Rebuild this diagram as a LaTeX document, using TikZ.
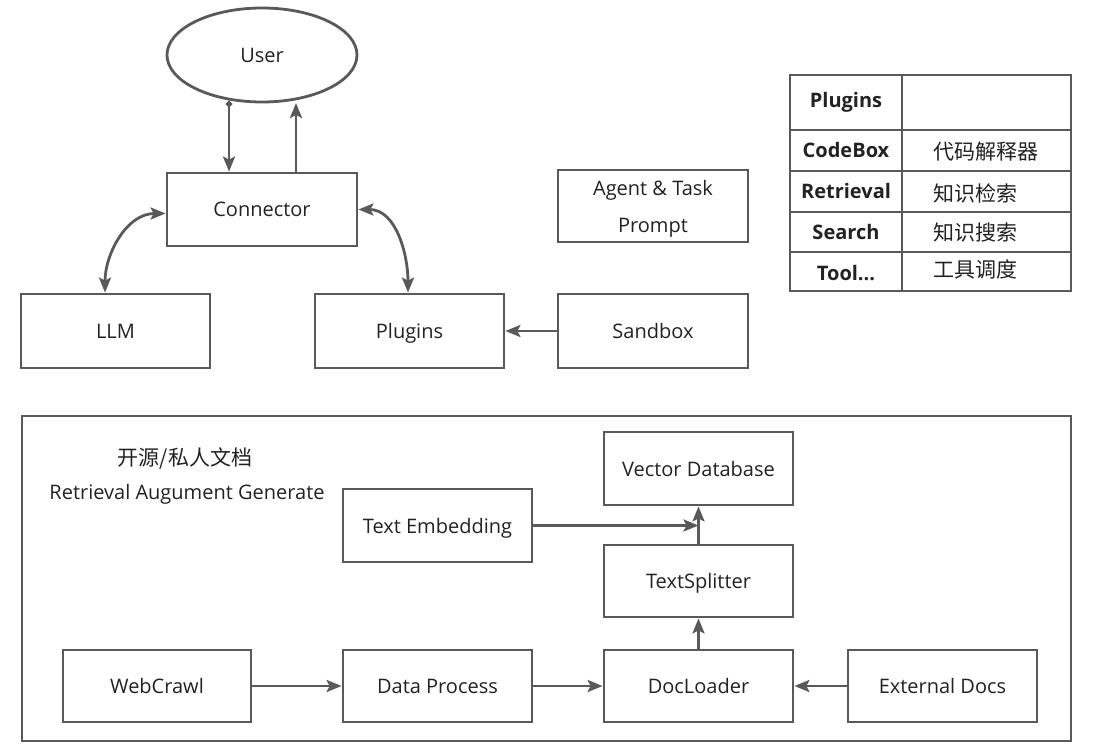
\documentclass[tikz,border=0pt]{standalone}
\usepackage{fontspec}
\setmainfont{Open Sans}
\newfontfamily\cjk{Noto Sans CJK SC}
\usetikzlibrary{arrows.meta,shapes.geometric}
\definecolor{ln}{HTML}{595959}
\definecolor{tx}{HTML}{222222}
\begin{document}
\begin{tikzpicture}[x=1pt,y=-1pt,
  every node/.style={text=tx,font=\fontsize{20}{24}\selectfont},
  box/.style={draw=ln,line width=2.8pt,fill=white,inner sep=0pt,text depth=0pt},
  tip/.tip={Stealth[length=15pt,width=12pt,inset=3pt]},
  conn/.style={draw=ln,line width=2.8pt,-tip},
  dconn/.style={draw=ln,line width=2.8pt,tip-tip},
  cell/.style={draw=ln,line width=2.8pt,inner sep=0pt},
  bold/.style={font=\fontsize{20}{24}\selectfont\bfseries},
  cjkt/.style={font=\fontsize{21}{25}\selectfont\cjk,anchor=west}
]
\useasboundingbox (0,0) rectangle (1117,754);
% User
\node[draw=ln,line width=2.8pt,ellipse,minimum width=190pt,minimum height=94pt,inner sep=0pt] (user) at (262,55) {User};
% boxes
\node[box,minimum width=190pt,minimum height=73pt] (con) at (262,209.5) {Connector};
\node[box,minimum width=189pt,minimum height=74pt] (llm) at (115.5,331) {LLM};
\node[box,minimum width=189pt,minimum height=74pt] (plg) at (409.5,331) {Plugins};
\node[box,minimum width=190pt,minimum height=74pt] (sbx) at (653,331) {Sandbox};
\node[box,minimum width=190pt,minimum height=72pt,align=center,font=\fontsize{20}{37}\selectfont] (agt) at (653,206) {Agent \& Task\\Prompt};
% table
\node[cell,minimum width=112pt,minimum height=55pt,bold] (h1) at (846,102.5) {Plugins};
\node[cell,minimum width=169pt,minimum height=55pt] (h2) at (986.5,102.5) {};
\node[cell,minimum width=112pt,minimum height=41pt,bold] (r1) at (846,150.5) {CodeBox};
\node[cell,minimum width=169pt,minimum height=41pt] (c1) at (986.5,150.5) {};
\node[cell,minimum width=112pt,minimum height=41pt,bold] (r2) at (846,191.5) {Retrieval};
\node[cell,minimum width=169pt,minimum height=41pt] (c2) at (986.5,191.5) {};
\node[cell,minimum width=112pt,minimum height=40pt,bold] (r3) at (846,232) {Search};
\node[cell,minimum width=169pt,minimum height=40pt] (c3) at (986.5,232) {};
\node[cell,minimum width=112pt,minimum height=39pt] (r4) at (846,271.5) {};
\node[cell,minimum width=169pt,minimum height=39pt] (c4) at (986.5,271.5) {};
\node[bold] (r4t) at (846,273) {Tool...};
\node[cjkt] (t1) at (930,152) {代码解释器};
\node[cjkt] (t2) at (930,193) {知识检索};
\node[cjkt] (t3) at (930,233) {知识搜索};
\node[cjkt] (t4) at (930,269) {工具调度};
% RAG frame
\node[draw=ln,line width=2.8pt,minimum width=1049pt,minimum height=325pt,inner sep=0pt] (frame) at (546.5,578.5) {};
\node[font=\fontsize{21}{25}\selectfont\cjk] (lab1) at (185,458) {开源/私人文档};
\node (lab2) at (187,494) {Retrieval Augument Generate};
\node[box,minimum width=189pt,minimum height=73pt] (vdb) at (698.5,468.5) {Vector Database};
\node[box,minimum width=189pt,minimum height=73pt] (emb) at (437.5,525.5) {Text Embedding};
\node[box,minimum width=189pt,minimum height=72pt] (tsp) at (698.5,581) {TextSplitter};
\node[box,minimum width=188pt,minimum height=72pt] (web) at (157,686) {WebCrawl};
\node[box,minimum width=189pt,minimum height=72pt] (dpr) at (437.5,686) {Data Process};
\node[box,minimum width=189pt,minimum height=72pt] (dl) at (698.5,686) {DocLoader};
\node[box,minimum width=189pt,minimum height=72pt] (ext) at (942.5,686) {External Docs};
% connectors top
\coordinate (ua) at (229,101);
\coordinate (ub) at (296,103);
\coordinate (lx) at (105,0);
\coordinate (px) at (408,0);
\draw[draw=ln,line width=2.8pt,{Circle[length=6pt]}-tip] (ua) -- (con.north -| ua);
\draw[conn] (con.north -| ub) -- (ub);
\draw[dconn] ([yshift=-4pt]con.west) to[out=180,in=90] (llm.north -| lx);
\draw[dconn] (con.east) to[out=0,in=90] (plg.north -| px);
\draw[conn] (sbx.west) -- (plg.east);
% connectors bottom
\draw[conn] (emb.east) -- (emb.east -| vdb.south);
\draw[conn] (tsp.north) -- (vdb.south);
\draw[conn] (dl.north) -- (tsp.south);
\draw[conn] (web.east) -- (dpr.west);
\draw[conn] (dpr.east) -- (dl.west);
\draw[conn] (ext.west) -- (dl.east);
\end{tikzpicture}
\end{document}
